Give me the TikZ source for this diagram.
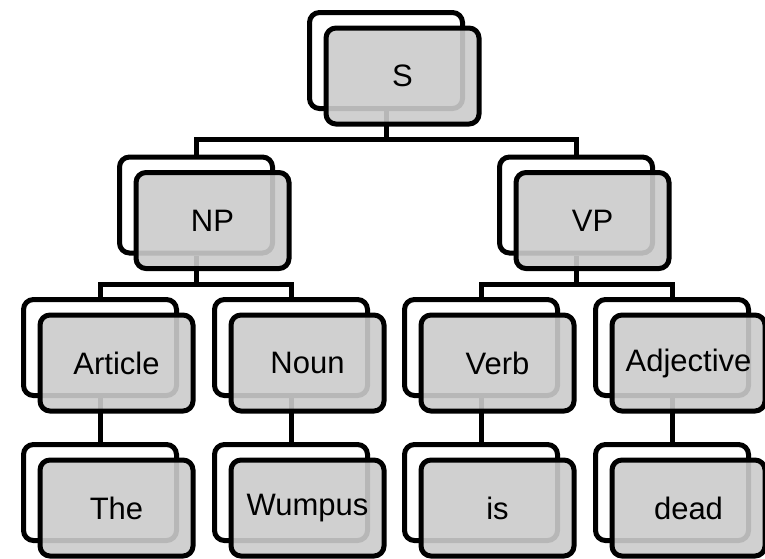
\documentclass[tikz,border=0pt]{standalone}
\usepackage{fontspec}
\setmainfont{Liberation Sans}
\definecolor{frontgray}{RGB}{203,203,203}
\begin{document}
\begin{tikzpicture}[x=1pt,y=-1pt,
  backbox/.style={draw=black, line width=5pt, rounded corners=10pt, fill=white,
    minimum width=153pt, minimum height=96pt, inner sep=0pt},
  frontbox/.style={draw=black, line width=5pt, rounded corners=10pt, fill=frontgray,
    fill opacity=0.9, text opacity=1, draw opacity=1,
    minimum width=153pt, minimum height=96pt, inner sep=0pt,
    font=\fontsize{31}{36}\selectfont},
  conn/.style={draw=black, line width=5pt}]
\useasboundingbox (0,0) rectangle (765,558);
% back boxes
\node[backbox] (Sb) at (386,60.5) {};
\node[backbox] (NPb) at (196,205) {};
\node[backbox] (VPb) at (576,205) {};
\node[backbox] (Articleb) at (100,347.5) {};
\node[backbox] (Nounb) at (291,347.5) {};
\node[backbox] (Verbb) at (481,347.5) {};
\node[backbox] (Adjb) at (672,347.5) {};
\node[backbox] (Theb) at (100,492.5) {};
\node[backbox] (Wumpusb) at (291,492.5) {};
\node[backbox] (isb) at (481,492.5) {};
\node[backbox] (deadb) at (672,492.5) {};
% connectors
\draw[conn] (Sb.south) -- ++(0,28) -| (NPb.north);
\draw[conn] (Sb.south) -- ++(0,28) -| (VPb.north);
\draw[conn] (NPb.south) -- ++(0,29) -| (Articleb.north);
\draw[conn] (NPb.south) -- ++(0,29) -| (Nounb.north);
\draw[conn] (VPb.south) -- ++(0,29) -| (Verbb.north);
\draw[conn] (VPb.south) -- ++(0,29) -| (Adjb.north);
\draw[conn] (Articleb.south) -- (Theb.north);
\draw[conn] (Nounb.south) -- (Wumpusb.north);
\draw[conn] (Verbb.south) -- (isb.north);
\draw[conn] (Adjb.south) -- (deadb.north);
% front boxes
\node[frontbox] (S) at ([shift={(16.5,15.5)}]Sb.center) {S};
\node[frontbox] (NP) at ([shift={(16.5,15.5)}]NPb.center) {NP};
\node[frontbox] (VP) at ([shift={(16.5,15.5)}]VPb.center) {VP};
\node[frontbox] (Article) at ([shift={(16.5,15.5)}]Articleb.center) {Article};
\node[frontbox] (Noun) at ([shift={(16.5,15.5)}]Nounb.center) {Noun};
\node[frontbox] (Verb) at ([shift={(16.5,15.5)}]Verbb.center) {Verb};
\node[frontbox] (Adj) at ([shift={(16.5,15.5)}]Adjb.center) {Adjective};
\node[frontbox] (The) at ([shift={(16.5,15.5)}]Theb.center) {The};
\node[frontbox] (Wumpus) at ([shift={(16.5,15.5)}]Wumpusb.center) {Wumpus};
\node[frontbox] (is) at ([shift={(16.5,15.5)}]isb.center) {is};
\node[frontbox] (dead) at ([shift={(16.5,15.5)}]deadb.center) {dead};
\end{tikzpicture}
\end{document}
